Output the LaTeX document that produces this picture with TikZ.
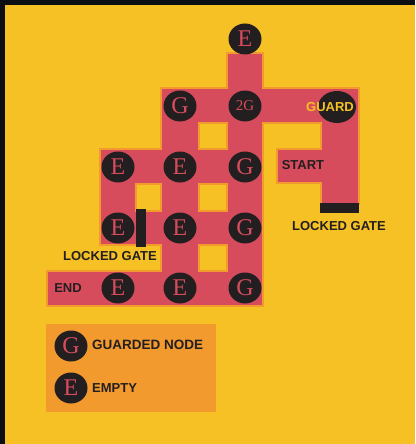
\documentclass[tikz,border=0pt]{standalone}
\usepackage{fontspec}
\setmainfont{Liberation Serif}
\newfontfamily\labfont{Liberation Sans}
\usetikzlibrary{shapes.geometric}
\definecolor{bgyellow}{HTML}{F5C124}
\definecolor{mazered}{HTML}{D74C5D}
\definecolor{edgeorange}{HTML}{F29A2E}
\definecolor{inkdark}{HTML}{231F20}
\definecolor{frame}{HTML}{0B0F14}
\tikzset{
  room/.style={ellipse, fill=inkdark, inner sep=0pt, minimum width=33pt, minimum height=31pt,
    text=mazered, font=\fontsize{24}{24}\selectfont},
  smallroom/.style={room, font=\fontsize{15}{15}\selectfont},
  lab/.style={inner sep=0pt, text=inkdark, font=\labfont\bfseries\fontsize{13}{13}\selectfont},
  gatebar/.style={fill=inkdark, draw=none},
}
\begin{document}
\begin{tikzpicture}[x=1pt,y=-1pt]
\useasboundingbox (0,0) rectangle (415,444);
\fill[frame] (0,0) rectangle (415,444);
\fill[bgyellow] (5,5) rectangle (415,444);
% maze corridors: orange outline then red fill
\foreach \e/\c in {1.8/edgeorange, 0/mazered}{
  \fill[\c] (228-\e,54-\e) rectangle (262+\e,305+\e);
  \fill[\c] (162-\e,89-\e) rectangle (358+\e,122+\e);
  \fill[\c] (322-\e,89-\e) rectangle (358+\e,203+\e);
  \fill[\c] (278-\e,150-\e) rectangle (358+\e,182+\e);
  \fill[\c] (162-\e,89-\e) rectangle (198+\e,305+\e);
  \fill[\c] (101-\e,150-\e) rectangle (262+\e,183+\e);
  \fill[\c] (101-\e,212-\e) rectangle (262+\e,244+\e);
  \fill[\c] (101-\e,150-\e) rectangle (135+\e,244+\e);
  \fill[\c] (48-\e,272-\e) rectangle (262+\e,305+\e);
}
% nodes
\node[room] (top) at (245,39) {E};
\node[room] (g1) at (180,106) {G};
\node[smallroom] (g2) at (245,106) {2G};
\node[ellipse, fill=inkdark, inner sep=0pt, minimum width=38pt, minimum height=32pt] (guard) at (337,107) {};
\node[lab, text=bgyellow] (guardtxt) at (330,107) {GUARD};
\node[room] (r3a) at (118,167) {E};
\node[room] (r3b) at (180,167) {E};
\node[room] (r3c) at (245,167) {G};
\node[room] (r4a) at (118,228) {E};
\node[room] (r4b) at (180,228) {E};
\node[room] (r4c) at (245,228) {G};
\node[room] (r5a) at (118,288) {E};
\node[room] (r5b) at (180,288) {E};
\node[room] (r5c) at (245,288) {G};
% gates
\fill[gatebar] (136,209) rectangle (146,247);
\fill[gatebar] (320,203) rectangle (359,213);
% labels
\node[lab] (start) at (303,165) {START};
\node[lab] (end) at (68,288) {END};
\node[lab] (gate1) at (110,256) {LOCKED GATE};
\node[lab] (gate2) at (339,226) {LOCKED GATE};
% legend
\fill[edgeorange] (46,324) rectangle (216,412);
\node[room] (legg) at (71,346) {G};
\node[lab, anchor=west, font=\labfont\bfseries\fontsize{13.5}{13.5}\selectfont] (leggt) at (92,345) {GUARDED NODE};
\node[room] (lege) at (71,388) {E};
\node[lab, anchor=west] (leget) at (92,388) {EMPTY};
\end{tikzpicture}
\end{document}
